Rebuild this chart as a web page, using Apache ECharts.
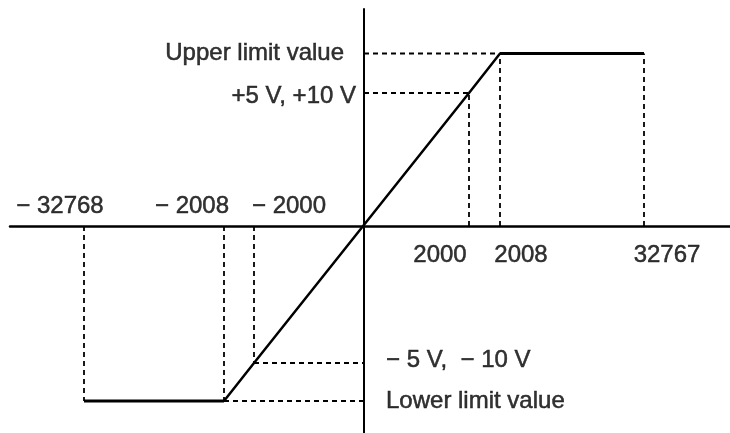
<!DOCTYPE html>
<html>
<head>
<meta charset="utf-8">
<title>Analog output conversion characteristic</title>
<script src="https://cdn.jsdelivr.net/npm/echarts@6/dist/echarts.min.js"></script>
<style>
  html, body { margin: 0; padding: 0; background: #fff; }
  #chart { width: 730px; height: 433px; }
</style>
</head>
<body>
<div id="chart"></div>
<script>
// digital values along the horizontal axis (schematic, not to scale)
var codes = [-32768, -2008, -2000, 2000, 2008, 32767];
// where each code sits on the schematic axis (diagram units)
var codeX = [-280, -140, -110, 105, 136, 280];
var codeLabels = ['\u2212 32768', '\u2212 2008', '\u2212 2000', '2000', '2008', '32767'];

// output levels on the vertical axis (diagram units)
var levelNames = ['Upper limit value', '+5 V, +10 V', '\u2212 5 V,  \u2212 10 V', 'Lower limit value'];
var levels = [172.5, 133, -137, -175];

var UPPER = levels[0], POS5 = levels[1], NEG5 = levels[2], LOWER = levels[3];

var ink = '#000';
var font = 'Liberation Sans, Arial, sans-serif';

function dashed(points) {
  return {
    type: 'line',
    data: points,
    showSymbol: false,
    silent: true,
    z: 1,
    lineStyle: { color: '#000', width: 1.8, type: [5, 4] }
  };
}

var series = [];

// guide lines
series.push(dashed([[0, UPPER], [codeX[4], UPPER]]));
series.push(dashed([[0, POS5], [codeX[3], POS5]]));
series.push(dashed([[codeX[2], NEG5], [0, NEG5]]));
series.push(dashed([[codeX[1], LOWER], [0, LOWER]]));
series.push(dashed([[codeX[3], 0], [codeX[3], POS5]]));
series.push(dashed([[codeX[4], 0], [codeX[4], UPPER]]));
series.push(dashed([[codeX[5], 0], [codeX[5], UPPER]]));
series.push(dashed([[codeX[0], 0], [codeX[0], LOWER]]));
series.push(dashed([[codeX[1], 0], [codeX[1], LOWER]]));
series.push(dashed([[codeX[2], 0], [codeX[2], NEG5]]));

// conversion characteristic
series.push({
  type: 'line',
  data: [[codeX[1], LOWER], [codeX[2], NEG5], [codeX[3], POS5], [codeX[4], UPPER]],
  showSymbol: false, silent: true, z: 3,
  lineStyle: { color: ink, width: 2.5 }
});
series.push({
  type: 'line',
  data: [[codeX[0], LOWER], [codeX[1], LOWER]],
  showSymbol: false, silent: true, z: 3,
  lineStyle: { color: ink, width: 3 }
});
series.push({
  type: 'line',
  data: [[codeX[4], UPPER], [codeX[5], UPPER]],
  showSymbol: false, silent: true, z: 3,
  lineStyle: { color: ink, width: 3 }
});

// text labels
var codeOffsets = [[-24, -20], [-32, -20], [35, -20], [-29, 29], [21, 29], [23, 29]];
var levelLabelStyle = [
  { align: 'right', offset: [-20, 0] },
  { align: 'right', offset: [-8, 3] },
  { align: 'left', offset: [22, -3] },
  { align: 'left', offset: [22, 0] }
];

var textData = [];
codes.forEach(function (c, i) {
  textData.push({
    name: codeLabels[i],
    value: [codeX[i], 0],
    label: { offset: codeOffsets[i], align: 'center' }
  });
});
levels.forEach(function (v, i) {
  textData.push({
    name: levelNames[i],
    value: [0, v],
    label: levelLabelStyle[i]
  });
});

series.push({
  type: 'scatter',
  data: textData,
  symbolSize: 1,
  silent: true,
  z: 5,
  itemStyle: { color: 'transparent' },
  label: {
    show: true,
    position: 'inside',
    verticalAlign: 'middle',
    color: ink,
    textBorderColor: ink,
    textBorderWidth: 0.5,
    fontFamily: font,
    fontSize: 24,
    formatter: function (p) { return p.name; }
  }
});

var chart = echarts.init(document.getElementById('chart'), null, { renderer: 'canvas' });
chart.setOption({
  animation: false,
  backgroundColor: '#fff',
  grid: { left: 10, right: 0, top: 9, bottom: 0 },
  xAxis: {
    type: 'value',
    min: -354,
    max: 366,
    axisLine: { onZero: true, lineStyle: { color: '#000', width: 2.5 } },
    axisTick: { show: false },
    axisLabel: { show: false },
    splitLine: { show: false }
  },
  yAxis: {
    type: 'value',
    min: -207,
    max: 217,
    axisLine: { onZero: true, lineStyle: { color: '#000', width: 2 } },
    axisTick: { show: false },
    axisLabel: { show: false },
    splitLine: { show: false }
  },
  series: series
});
</script>
</body>
</html>
